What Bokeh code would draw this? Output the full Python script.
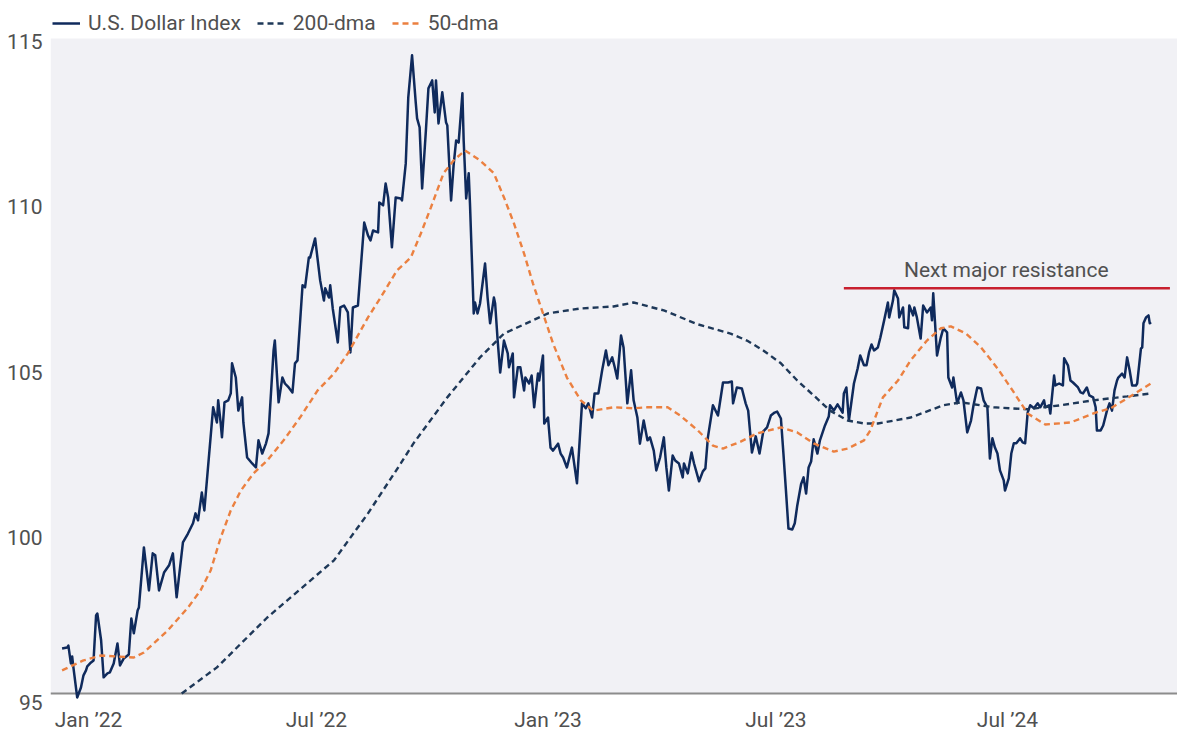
from bokeh.plotting import figure
from bokeh.models import (Range1d, FixedTicker, Legend, LegendItem, BoxAnnotation,
                          LinearAxis, Span)
from bokeh.core.properties import value
from bokeh.embed import file_html
from bokeh.resources import INLINE

# x values: days since 1 Jan 2022
dxy_day = [
    -21, -17, -16, -14, -13, -12, -9, -6, -4, -2,
    -1, 2, 4, 6, 7, 10, 12, 15, 17, 20,
    23, 25, 28, 32, 34, 36, 39, 40, 44, 48,
    51, 53, 56, 60, 64, 67, 70, 75, 79, 83,
    85, 87, 90, 92, 99, 102, 103, 105, 106, 108,
    111, 113, 114, 117, 119, 122, 123, 126, 130, 133,
    135, 138, 141, 143, 147, 148, 151, 154, 156, 159,
    162, 164, 166, 170, 172, 175, 176, 180, 184, 187,
    188, 191, 192, 194, 198, 200, 203, 206, 208, 210,
    214, 219, 222, 224, 226, 230, 231, 234, 236, 238,
    241, 244, 248, 249, 252, 254, 257, 260, 261, 263,
    265, 268, 270, 273, 275, 276, 278, 281, 284, 285,
    288, 290, 292, 294, 297, 298, 300, 302, 303, 306,
    307, 309, 311, 315, 317, 319, 322, 323, 325, 327,
    330, 333, 334, 337, 338, 341, 343, 346, 347, 350,
    352, 354, 357, 358, 361, 362, 365, 367, 369, 373,
    375, 377, 380, 384, 388, 392, 395, 397, 400, 402,
    405, 408, 411, 413, 416, 418, 420, 423, 425, 428,
    431, 433, 436, 438, 441, 444, 446, 449, 451, 454,
    457, 459, 461, 464, 466, 469, 472, 473, 476, 479,
    481, 485, 488, 490, 492, 496, 500, 504, 508, 511,
    512, 515, 519, 522, 524, 527, 530, 533, 536, 539,
    542, 545, 547, 550, 552, 554, 556, 559, 561, 563,
    566, 568, 570, 572, 574, 576, 579, 581, 585, 588,
    589, 592, 595, 599, 600, 602, 604, 608, 611, 613,
    616, 618, 620, 622, 624, 627, 629, 632, 635, 636,
    639, 640, 643, 644, 647, 648, 651, 652, 655, 656,
    658, 661, 663, 666, 669, 670, 671, 674, 677, 679,
    682, 683, 686, 687, 690, 693, 695, 698, 701, 703,
    706, 709, 711, 714, 716, 718, 720, 722, 724, 727,
    728, 731, 733, 735, 737, 740, 742, 744, 746, 748,
    751, 754, 756, 759, 760, 763, 764, 767, 768, 771,
    774, 775, 778, 780, 782, 786, 788, 790, 793, 795,
    798, 800, 801, 804, 806, 809, 811, 813, 815, 817,
    818, 821, 823, 825, 827, 829, 832, 833, 836, 837,
    838, 840, 842, 843, 844,
]
dxy_val = [
    96.36, 96.39, 96.45, 95.91, 96.12, 95.79, 94.88, 95.18, 95.55, 95.70,
    95.82, 95.94, 96.00, 97.36, 97.42, 96.61, 95.49, 95.61, 95.64, 95.91,
    96.51, 95.85, 96.06, 96.18, 97.27, 96.82, 97.51, 97.60, 99.42, 98.12,
    99.24, 99.18, 98.12, 98.66, 98.88, 99.24, 97.91, 99.57, 99.84, 100.15,
    100.45, 100.24, 101.08, 100.54, 103.66, 103.20, 103.87, 103.17, 102.75, 103.81,
    103.87, 104.08, 104.99, 104.56, 103.56, 103.96, 103.20, 102.14, 101.96, 101.84,
    102.66, 102.26, 102.57, 102.87, 105.38, 105.68, 103.81, 104.56, 104.38, 104.26,
    104.11, 104.99, 105.08, 107.35, 107.29, 108.19, 108.19, 108.77, 107.50, 106.89,
    107.26, 106.98, 107.35, 106.65, 105.62, 106.68, 106.74, 106.53, 105.32, 106.68,
    106.74, 109.25, 108.86, 108.71, 109.01, 108.95, 109.86, 109.77, 110.43, 110.01,
    108.50, 110.01, 109.98, 109.92, 111.04, 113.04, 114.31, 112.85, 112.40, 112.13,
    110.28, 112.04, 113.31, 113.55, 112.58, 113.55, 112.25, 113.19, 112.28, 112.19,
    109.92, 110.98, 111.73, 111.67, 113.16, 111.73, 109.98, 110.74, 109.83, 106.50,
    106.83, 106.50, 106.80, 108.01, 106.98, 106.20, 106.98, 106.80, 105.68, 104.71,
    105.68, 105.29, 104.87, 105.29, 103.96, 104.87, 104.87, 104.17, 104.56, 104.38,
    104.62, 103.66, 104.68, 104.47, 105.23, 103.17, 103.35, 102.44, 102.35, 102.56,
    102.26, 102.14, 101.84, 102.44, 101.36, 103.78, 103.63, 103.78, 103.35, 104.08,
    104.08, 104.78, 105.38, 104.93, 105.17, 104.87, 104.53, 105.83, 105.47, 103.78,
    104.78, 103.87, 103.35, 102.56, 103.26, 102.66, 102.75, 102.35, 101.75, 102.14,
    102.75, 101.84, 101.14, 102.20, 102.05, 101.96, 101.54, 101.96, 101.66, 102.29,
    101.96, 101.42, 101.72, 101.81, 102.75, 103.72, 103.41, 104.41, 104.41, 104.44,
    103.78, 104.26, 104.23, 103.78, 103.56, 102.29, 102.78, 102.26, 102.93, 103.05,
    103.41, 103.50, 103.53, 103.32, 102.26, 101.14, 99.99, 99.96, 100.15, 100.69,
    101.33, 101.54, 101.05, 101.84, 102.02, 102.69, 102.26, 102.66, 103.11, 103.38,
    103.72, 103.56, 103.75, 103.50, 104.08, 104.26, 103.26, 104.38, 104.84, 105.23,
    104.93, 104.93, 105.32, 105.56, 105.38, 105.47, 105.77, 106.29, 106.83, 106.38,
    106.89, 107.20, 106.95, 106.38, 106.68, 106.08, 106.05, 106.74, 106.44, 106.68,
    106.38, 105.74, 106.74, 106.53, 106.68, 106.29, 107.11, 105.23, 105.77, 106.05,
    105.93, 104.56, 104.26, 104.56, 103.78, 104.11, 103.87, 102.90, 103.26, 103.72,
    104.26, 104.23, 103.87, 103.66, 102.11, 102.72, 102.44, 102.26, 101.75, 101.45,
    101.14, 101.51, 102.26, 102.57, 102.57, 102.72, 102.60, 102.57, 103.50, 103.72,
    103.63, 103.78, 103.66, 103.87, 103.66, 103.72, 103.47, 104.62, 104.32, 104.38,
    104.32, 105.14, 104.93, 104.47, 104.41, 104.26, 104.11, 104.08, 104.26, 104.02,
    103.96, 103.66, 102.96, 102.96, 103.11, 103.56, 103.78, 103.56, 104.17, 104.47,
    104.56, 104.68, 104.56, 105.17, 104.78, 104.32, 104.32, 104.38, 105.44, 105.47,
    106.20, 106.38, 106.44, 106.20, 106.23,
]

dma200_day = [74, 102, 142, 195, 222, 248, 258, 285, 311, 330, 365, 391, 417, 433,
              457, 484, 510, 523, 536, 550, 563, 576, 589, 603, 616, 627, 653, 679,
              693, 719, 746, 772, 798, 825, 844]
dma200_val = [95.00, 95.79, 97.30, 99.03, 100.45, 101.96, 102.56, 103.96, 105.17, 105.89,
              106.50, 106.65, 106.71, 106.83, 106.59, 106.17, 105.89, 105.68, 105.38, 104.99,
              104.47, 104.02, 103.56, 103.26, 103.17, 103.17, 103.35, 103.72, 103.81, 103.66,
              103.60, 103.72, 103.87, 103.99, 104.08]

dma50_day = [-21, -4, 10, 23, 36, 44, 63, 79, 89, 97, 105, 113, 121, 131, 142, 155, 168,
             182, 195, 206, 222, 232, 245, 256, 264, 272, 282, 290, 299, 311, 322, 330,
             338, 346, 353, 361, 369, 380, 391, 401, 417, 433, 444, 460, 470, 484, 496,
             504, 518, 531, 550, 563, 576, 592, 603, 616, 621, 631, 643, 653, 666, 677,
             685, 697, 709, 722, 734, 746, 760, 780, 800, 812, 825, 844]
dma50_val = [95.70, 96.00, 96.15, 96.12, 96.09, 96.24, 96.91, 97.60, 98.12, 98.72, 99.72,
             100.54, 101.14, 101.66, 102.05, 102.66, 103.35, 104.17, 104.68, 105.29, 106.38,
             106.98, 107.80, 108.19, 108.92, 109.71, 110.74, 111.13, 111.43, 111.13, 110.74,
             110.01, 109.22, 108.31, 107.41, 106.50, 105.59, 104.56, 103.87, 103.56, 103.66,
             103.63, 103.66, 103.66, 103.41, 102.96, 102.50, 102.41, 102.62, 102.87, 103.05,
             102.90, 102.57, 102.32, 102.41, 102.66, 102.96, 103.96, 104.47, 105.08, 105.68,
             106.05, 106.11, 105.89, 105.47, 104.84, 104.17, 103.47, 103.14, 103.20, 103.50,
             103.63, 103.93, 104.38]

resistance_level = 107.26
resistance_days = [600, 859]
resistance_label = "Next major resistance"
resistance_label_pos = (729, 107.80)

tick_days = [0, 181, 365, 546, 730]
tick_labels = ["Jan ’22", "Jul ’22", "Jan ’23", "Jul ’23", "Jul ’24"]
y_ticks = [95, 100, 105, 110, 115]
y_base = 95
plot_area_top = 114.82

assert len(dxy_day) == len(dxy_val)
assert len(dma200_day) == len(dma200_val)
assert len(dma50_day) == len(dma50_val)

FONT = "Roboto"
TEXT = "#505050"
BG = "#f1f1f5"
NAVY = "#0f2a5c"
NAVY2 = "#1e3858"
ORANGE = "#eb8040"
RED = "#c8202f"
AXIS = "#8c8c8c"

# Layout: the frame runs from the top of the page (so the legend strip above the
# grey plot area is not clipped) to a little below the 95 base line.
W, H = 1177, 737
LEFT, BOTTOM = 50, 34
PX_PER_UNIT = 33.05
PX_PER_DAY = 1.2589
BELOW_BASE_PX = 10          # white strip under the base line inside the frame
LABEL_DROP_PX = 9           # y labels sit slightly below their level, as in the source
LEGEND_BOTTOM_PX = 35       # legend's lower edge, measured from the top of the page
frame_h = H - BOTTOM
frame_w = W - LEFT
y_lo = y_base - BELOW_BASE_PX / PX_PER_UNIT
y_hi = y_lo + frame_h / PX_PER_UNIT
x_lo = -30.2
x_hi = x_lo + frame_w / PX_PER_DAY
shift = LABEL_DROP_PX / PX_PER_UNIT

p = figure(width=W, height=H, output_backend="svg", toolbar_location=None,
           x_range=Range1d(x_lo, x_hi), y_range=Range1d(y_lo, y_hi),
           y_axis_location=None,
           min_border_left=LEFT, min_border_right=0, min_border_top=0,
           min_border_bottom=BOTTOM,
           background_fill_color="white", border_fill_color="white",
           outline_line_color=None)
p.grid.visible = False
p.extra_y_ranges = {"labels": Range1d(y_lo + shift, y_hi + shift)}

p.add_layout(BoxAnnotation(bottom=y_base, top=plot_area_top, fill_color=BG, fill_alpha=1.0,
                           line_color=None, level="underlay"))
p.add_layout(Span(location=y_base, dimension="width", line_color=AXIS, line_width=2,
                  level="underlay"))

r_main = p.line(dxy_day, dxy_val, line_color=NAVY, line_width=2.5, line_join="round")
r_200 = p.line(dma200_day, dma200_val, line_color=NAVY2, line_width=2.4, line_dash="6 4")
r_50 = p.line(dma50_day, dma50_val, line_color=ORANGE, line_width=2.4, line_dash="6 4")

p.line(resistance_days, [resistance_level, resistance_level], line_color=RED, line_width=2.5)
p.text(x=[resistance_label_pos[0]], y=[resistance_label_pos[1]], text=[resistance_label],
       text_font=value(FONT), text_font_size="21px", text_color=TEXT,
       text_align="center", text_baseline="middle")

legend = Legend(items=[LegendItem(label="U.S. Dollar Index", renderers=[r_main]),
                       LegendItem(label="200-dma", renderers=[r_200]),
                       LegendItem(label="50-dma", renderers=[r_50])],
                orientation="horizontal", location=(2, frame_h - LEGEND_BOTTOM_PX),
                background_fill_alpha=0, border_line_color=None,
                padding=0, margin=0, spacing=16, glyph_width=28, glyph_height=20,
                label_height=20, label_standoff=8, label_text_font=FONT,
                label_text_font_size="21px", label_text_color=TEXT)
p.add_layout(legend, "center")

xa = p.xaxis[0]
xa.ticker = FixedTicker(ticks=tick_days)
xa.major_label_overrides = {d: l for d, l in zip(tick_days, tick_labels)}
xa.axis_line_color = None
xa.major_tick_line_color = None
xa.minor_tick_line_color = None
xa.major_tick_out = 0
xa.major_tick_in = 0
xa.minor_tick_out = 0
xa.minor_tick_in = 0
xa.major_label_standoff = 4
xa.major_label_text_font = FONT
xa.major_label_text_font_size = "21px"
xa.major_label_text_color = TEXT

ya = LinearAxis(y_range_name="labels", ticker=FixedTicker(ticks=y_ticks),
                axis_line_color=None, major_tick_line_color=None,
                minor_tick_line_color=None, major_tick_out=0, major_tick_in=0,
                minor_tick_out=0, minor_tick_in=0, major_label_standoff=8,
                major_label_text_font=FONT, major_label_text_font_size="21px",
                major_label_text_color=TEXT)
p.add_layout(ya, "left")

open("out.html", "w").write(file_html(p, INLINE))
